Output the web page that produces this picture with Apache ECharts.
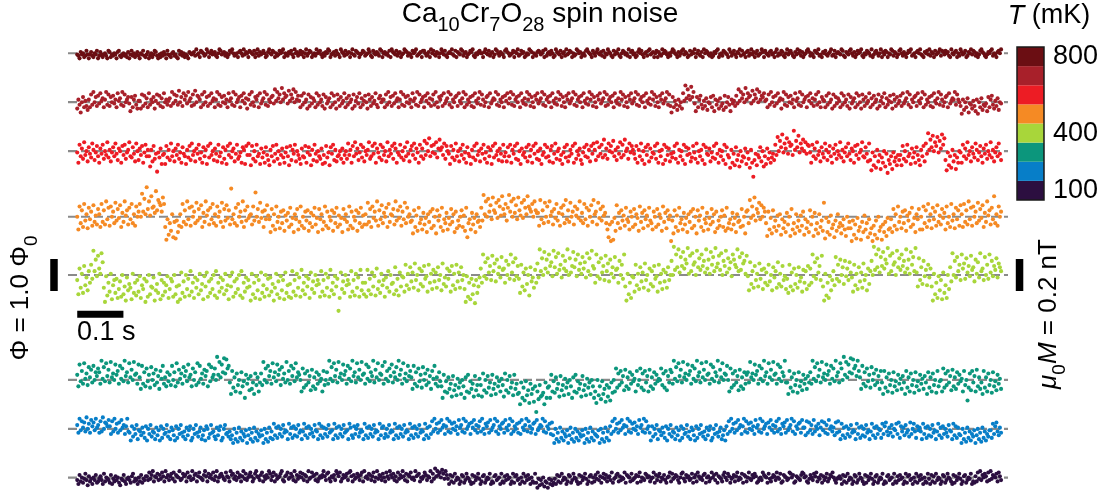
<!DOCTYPE html>
<html>
<head>
<meta charset="utf-8">
<title>Ca10Cr7O28 spin noise</title>
<script src="https://cdn.jsdelivr.net/npm/echarts@6/dist/echarts.min.js"></script>
<style>
  html, body { margin: 0; padding: 0; background: #fff; }
  #chart { width: 1104px; height: 491px; }
</style>
</head>
<body>
<div id="chart"></div>
<script>
// Sample temperatures (mK), top trace first
const temperatures = [800, 700, 600, 500, 400, 300, 200, 100];
// Colour of each temperature, top trace first
const traceColors = ['#6b0e13', '#a8202a', '#ed1c24', '#f58a24', '#a8d63a', '#0c967c', '#077ec8', '#2c0f40'];
// Vertical offset of each trace (in Φ0)
const traceOffsets = [13.68, 12.15, 10.62, 8.57, 6.75, 3.47, 1.94, 0.42];
// Colour bar tick labels (mK)
const colorbarTicks = [800, 400, 100];
const recordLength = 2.0;   // s, every record spans this long
const timeScaleBar = 0.1;   // s
const fluxScaleBar = 1.0;   // Φ0

// Flux samples, one character per sample, evenly spaced in time.
// Level = index in CODES minus CODE_ZERO, one level = FLUX_STEP Φ0.
const CODES = '0123456789ABCDEFGHIJKLMNOPQRSTUVWXYZabcdefghijklmnopqrstuvwxyz';
const CODE_ZERO = 31;
const FLUX_STEP = 0.04;

const flux800 = [
  'UTRWUVSTXURUWTSVUXRTWUSUVTRXWSUTVURWXTSUVTUSWRUXTV',
  'SUWTRVUXTSUWRTVSUXWTRUSVTWURXUTSVWTUSRXUWTVSUTRWVU',
  'VWTYUVSXWVTUYWSVXUVWTSVYXUVWTVSUXWYVTUVSWXVTYUWVSX',
  'WVUXSVYTWUVXVSTWYVUXWSVTUXVWYSVUTWVXUSYVWTVXUWSVYT',
  'VXWSUVTYVWXUSVTWVYXSUVWTXVUSYWVTXUVWSVYUTXWVSUVXWT',
  'UVYWTSXVUWVTYXSVWUVTXSYWVUXTVWSUVYXWTVUSXVWYTUVWSX',
  'XVTUWSYVXUTWVSVYWUXTSVWVYUTXSWVUYXTVWSUVXWYTSVUWXV',
  'VSWYVUXTVWSUYXVTWVUSXYWVTUVXSWVYTUXVWSTVUYXWSVUTWX',
  'WUVXSYTVWUXVSTYWVUXSVWTYUVXWSVTUYXVWSUVTXYWVUSXVTW',
  'YVUWTXSVUYWVTSXUWVYTSVXWUVTYSWXUVSTWYVXUSVWTXYUVWS',
  'VXSWUTYVXWUSVTWYXVUSWTVXYUWVSTXUWVYSVXUTWSYVXWUTVS',
  'TWVXYSUVTXWVUSYWTVXUSWVYTXUVSWXTVYUWSVXTUVYWSXVUTW',
  'XUVSWYTVUXWTSVYUWXVTSWUYVXTWSUVXYWTVUSXWVYTUSWVXUT',
  'VWYTUXSVWVUYXTSWVUXYVTWSUXVWYTSVUXWVTYSUWXVTVYSWUX',
  'WSVUYXTWVSUXYVTWUSVXWYTUVSWXVYUTSWVXUYTWVSXUVWYTXW',
  'UXVWTSYVUWXSVTYWUVXSTWVYUXWTVSUXYWVTSUWVXYTVUSWXVY'
].join('');

const flux700 = [
  'QXTNVZRWSP', 'XRbTdVZSaUcWYRXdTbSZVaUXRcWYTdSbVXZ', 'UOZRXaTQW',
  'WQbSaUYRcTXVZQWbUaSYRcVXTW', 'YSdUbWaTeVZScXaUdWYSbTeVaZ',
  'XRbTdVZSaUcWYRXdTbSZVaUXRcWYTdSbVXZRaWcUYQXbTdVSZXaRcUWYdTbSXVZ',
  'aUfWdYbVgXcZaUeWbYfVdXa',
  'WRaTcVXQbSZUYWRcTaVXSbQZUWYRcTaVQbXSZUWcRYTaVXQbSWZUcRYTWaVQbXSZUWcTRYaVX',
  'XRbTdVZSaUcWYRXdTbSZVaUXRcWYTdSbVXZRaWcUYSXbTdVRZX',
  'aScUWYdTbRXVZaScWUYdRbTXVZSaRcWUYdTbXSVZaRcUWYXdTb',
  'SXVZRaWcUYdTbSXZVaRcWUYTdXbSZVRaXcUWYdTbSXZVaRcWUY',
  'TdXbSZVRaXcUWYdTbSXZVaRcWUYTdXbSZVRaXcUWYdSbTXZVaR',
  'cWUYTdXbSZVRaXcUWYdTbSXZVaRcWUYTdXbSZVRaXcUWYdTbS',
  'NZRWTPXSVQ', 'cWiYfaXhZd', 'UOZRXaTQWSYPVUZRaOXTWQYSUPaRVZTOXUWS',
  'aUfWdYbVgXcZaUeWbYfVdXaZcW',
  'XRbTdVZSaUcWYQXdTbSZVaUXRcWYTdSbVXZRaWcUYSXbTdVRZX',
  'WRaTcVXQbSZUYWRcTaVXSbQZUWYRcTaVQbXSZUWcRYTaVXQbSWZUcRYTWaVQbXSZUW',
  'aScUWYdTbRXVZaScWUYdRbTXVZSaRcWUYdTbXSVZaRcUWYXdTbXV',
  'SMXPVRYNUTQWSOXMVRYPTS', 'UOZRXaTQWSYPVU'
].join('');

const flux600 = [
  'UMaRXPcSVNYTQbWOUZRMXTaPVScQWNUYRbTOXVMZSaPUWcRQYTNbVOXSZMUaRW', 'RJWNZPTFUQXLS',
  'TLZQWObRVNXSaPUMYTRLWQZObSVNXTaPUMYRWLZQbSVOXTNaRUMYPWLZSbQVXNTaPRUMYWLZSb',
  'SKZPVNaRTLXQUMYSOKWRZNTaPVLSXQMUYRKZOWTaNVSPLXRQZMUYSKWOaTNVRPXLSMZQUKYTaOWNRSVPXMS',
  'VPbSWMZRcTXOUaQYNVSWcPRZTbMXUQaOYSVNcRWTZPbXMUSaQVOYRcTNWZSbPXUMaR',
  'XPdSbVfRZUaTcQXeWYSbPZV',
  'TLZQWObRVNXSaPUMYTRLWQZObSVNXTaPUMYRWLZQbSVOXTNaRU',
  'NYRaMWTZPbOVLXSUQYNaRWMZTbPVOXLSUaQYRNWZMTbPVXOSLU',
  'YQaNRWTZMbPVSXOLUYRaQWNZTb',
  'WOcRYTaQeSXPbVZUdRWOYTcQaSeVXPbUZW',
  'TPZMWRbOVLYSaNXQUTZPbMVRWLaOYSXNTQUZPbMWRVOaLYSXTNQZUPbMVRWOaLYTSXNUQZPbTMWRVOaLYS',
  'QIWMTKYOSJVNRQXLUPIWMBOTKSQYNVJRLXPUMQTO', 'aSgVdYiUbXfTcZaSlWdYhUbXeVcTaZ',
  'UMaRXPcSVNYTQbWOUZRMXTaPVScQWNUYRbTOXVMZSaPUWcRQYTNb',
  'OGUKRIWNSHQMVJTEOLRHUNQKSO', 'SKZPVNaRTLXQUMYSOKWRZN', 'bTjWeYhVcZgUdXiaf',
  'OGUKRIWNSHQMV', 'UMaRXPcSVNYTQbWOUZRMXTaPVScQWNUYRbTO'
].join('');

const flux500 = [
  'VLdQaNfSXMcTZOeRWPb', 'XNfRaPhTcOdVZQgSbUeNYRhWaPcTfQXOdVZ', 'fVnZjXsbhWlcdYpaigeZkf',
  'NDTHQKXFRESJO', 'XNfRaPhTcOdVZQgSbUeNYRhWaPcTfQXOdVZRgNbSeUaPrTXQcOfVZRhNaSdUW',
  'XPdSoVbRgUZNaTeW',
  'TJbOXLdRVMZQaKWSYNcPUJXTbLRdOVMZSaKQYNWcPUJbTXLRdOZMVSaKYQcNWPUJbTXRLdOZMVSaKYQcNWP',
  'XPgRbNdUZShOaTeQYVcNfRXWbPhSaUdOZTgQcVXR',
  'SIaNWKcQTLYPUJXRZMbOVIaSWNcKTQYLUPbRXJZMSOVaNWKcFQTLYPUJXRSN',
  'cSmXhVjZeTkaYgUidWlbXfScmZhVjYeTkaWgUicXldbZfVhaY',
  'YOiTaQgVdRhWZPbUfSYOcXeQiTaRgVZPdWbUhSYQfTcOaVeRiXZPgUbSdWYQ', 'LFPCRD',
  'UKeQYMaSWOcTRLZVNbPXUKdRYMaTWOcSQLZVNbPXUKdRYMaTWC',
  'SIaNWKcQTLYPUJXRZMbOVIaSWNcKTQYLUPbRXJZMSOVaNWKcMQTLYPUJXRSNbOVIZ',
  'aQiUdWkSbYgTeVcZ', 'QGZLUIaNSKWOXHTMRJYPVGbLQIXNSKWOZHTMRJaPVGYLQIXNSK',
  'gEUJRHWMPFSKXNQIOTLGVMR', 'MCSHPEUKNDRJWLQFTIMCOHSEVKNDPJRGULM',
  'TJbOXLdRVMZQaKWSYNcPUJXTbL', 'VLdQaNfSXMcTZOeRWPbUYLdQVNfSXMcTaOe',
  'XNfRaPhTcOdVZQgSbUeNYRhWaPcTlQXOdVZ'
].join('');

const flux400 = [
  'RGaLWHcNTJYP', 'dSoYhUkaWmf',
  'LAUFPIWCNRHSDKQEVGMBTJOLCWHPFRIUDNKSAQEVGMLTBJOHWCRFPINUDKSQEVGMA',
  'NCXHQEVKSFYIPDTLRGWJOCUMXEQHSKVFYDPITLRGWJNCUMXEQHSKVFYDPITLR',
  'MBWGPDUJRCXHNEVKSFTIOBLWGQDUJRCXHNE',
  'ODYIRFWLTEZJPGUMSDXKQHVNROEYIRFWLTEZJPGUMS3DXKQHVNROEYIRFWLTEZJPG',
  'PEZJSGXMUFaKQHWNRETLYIVOPGbJSFXMU',
  'TIdNWKbQXLeRVJaOYMcSUIdPWKZQXLbRVJeOTMaSYIcNWKdQXLbRV',
  'KAUEPCSGN9RHMT', 'aPlUfSiXcRkYeQhWbTjZaPgVdSlXfRiUc', 'SHdMXJaOVFbQTLZP',
  'eTpYiVnahXlcfUobjWmZdTkagYpViXcnbhUlZeWjafTmYiVoc', 'aPlUfSiXcRkYeQhWbTjZaPgVdSl',
  'MBWGPDU', 'TIdNWKbQXLeRVJaOYMcSUIdPWKZQXLbRV',
  'gVrZlbpXjcnaheqWkYmdfVobiZlcgXpahWndjYqbekZmVgcoXiafUlhdbpYjZmegWk',
  'UJfOYLcRWMeSZKaPXNdQVJbTYLfOWMcRUK', 'SHdMXJaOVLbQTIZPYKcN', 'aPlUfSiXcRk',
  'MBWFPDUJR', 'YNjSdQhVbOgUaRfX', 'TIdNWKbQXLeRVJaOY',
  'gVrZlbpXjcnaheqWkYmdfVobiZlcgXpahWndjYq', 'XMiRbOgUZNdTa', 'MBWGPDUJRCXHNDVK',
  'bQmVgTjYdRlaeSiXcUkZbQhWfTmYaRjVdSlXgUcZiTebY'
].join('');

const flux300 = [
  'ZQhUcSiWaRfXdTgVbYe', 'bSkWfUiYdTjXaVhZcSgWeUkYbTiXdVjZaSh', 'XOgSbQeUZPfVaRdTYOcWgSXQbU',
  'ZRgVbQiTdWaSfYcUhXZQeVbRiTgWaSdYcQhUfXZ', 'eVnZjXhbmaleg', 'TKcPXMaRVLbQUHZSWNYOTKaRXMT',
  'aRjVeTgYcSiXbUhZdRfWaTjVcSgYeUiXbZ', 'VMePaRcTYNdQXObSZUWMcRV',
  'bSkWfUiYdTjXaVhZcSgWeUkYbTiXdVjZaShWfUbYkTdXiVaZgSjWcUeYhTbXfVkZdSiWaUgYc',
  'XOgSbQeUZPfVaRdTYOcWgSXQbU', 'QHZMULXOSIYNRJWPTKVQHXMZLUOSIYNRJW',
  'RIaNVLYPTJZOSKXQUMWRIaNVLYPTJZOSK', 'LCTHPFUJNDSKOEQ6MGRIJLCTHP',
  'QHZMULXOSIYNRJWPTKVQHXMZLUOSIYNRJWPTKVQH', 'MDVJQGUKOERIPFTL',
  'VMePaRcTYNdQXObSZUWMcRVePaNcTYMdQXObSZUWVeRaPcNYTd',
  'bSkWfUiYdTjXaVhZcSgWeUkYbTiXdVjZaShWfUbYkTdXiVaZg', 'VMePaRcTYNdQXObSZ',
  'bTjXaVhZcSgWeUkYbSiXdVjZaShWfUbYkT', 'TKcPXMaRVLbQUNZSWOYT', 'bSkWfUiYdTjXaVhZcSgWeUkYbTi',
  'eVnZjXhbmalegYkc', 'XOgSbQeUZPfVaRdTYOc',
  'TKcPXMaRVLbQUNZSWOYTKcPXMaRVLbQUNZSWOYTKbPXMaRVLcQU',
  'VMePaRcTYNdQXObSZUWMcRVFPaNcTYMdQXO', 'TKcPXMaRVLbQUNZSWO'
].join('');

const flux200 = [
  'YSdUbWaTeVZScXaUdWYSbTeVaZXc', 'XRbTdVZSaUcWYRXdT',
  'SMXPVRYNUTQWSOXMVRYPTSNWQUMXOVRSYPTNWUQMXOVRYSPTNWQUXMOVRYSPTWNQUMXVORYSTPNWQUXMOVYRSPTN',
  'QKVNSLWOTMRPUKQVNSLWOTMRPUQKVNSLWO',
  'TNZQWOXRVPYSUTNZRWOXQVPYSUNTZQWOXRVSPYUTNZQXOWRVPYSTUNZQWOXRVPYSTUNZWQOXRVYPSUTNZQWOXRVPYSUTNZQWXORVPYSUTNZQWOXRVPYSUTNZQWOXRVPYSUTNZQWO',
  'XRbTdVZSaUcWYRXdTbSZVaUXRcWYTdSbVXZRaWcUYSXbTdVRZXaScUWYdTbRXVZaScWUYdRbTXVZSaRcWUYdTbXSVZaRcUWYXdTbSXVZRa',
  'QKVNSLWOTMRPUKQWNSLVOTMRPUQKVNSLWOTMRQPUKVNSLWOTM', 'XRbTdVZSaUcWYRXdTbSZVaUXRcWYTdSbVX',
  'SMXPVRYNUTQWSOXMVRYPTSNWQUMXOVRSYPTNWUQMXOVRYSPTNWQUXMOVRYSPTWNQUM',
  'XRbTdVZSaUcWYRXdTbSZVaUXRcWYTdSbVXZRaWcUYSXbTdVRZXaScUWYdTbRXVZaScW',
  'WQbSaUYRcTXVZQWbUaSYRcVXTWQaSb', 'TNZQWOXRVPYSUTNZRWOXQVPYSUNTZQWOXRV',
  'UOZRXaTQWSYPVUZRaOXTWQYSUPaRVZTOXUW', 'TNZRWOXQVPYSUNTZQWOXRVSPYUTNZQXOWR',
  'QKVNSLWOTMRPUKQVNSLWOTMRPU', 'UOZRXaTQWS'
].join('');

const flux100 = [
  'TQXSVRUYTPWSUQVTXRSUWTQYSVUTRXQUSWTVRPUTXSQUVTRWYSUTQVSXRUTW',
  'WTZUXaSWVYTXUZWSaVXTWYUZSXWVaTUYWXSZVWTaUXYSWZVUTX',
  'aWSYVXUZTWaSVXYWUTZWVSaXYUWTZVXSWaUYTVXZWSUYaWVTXZ',
  'SWUXVaYTWZSXUVWYaTSWXZUVYWTaSXUWZVYTXWSaUVZWXTYSUW',
  'VXaWTYZUSWVXTaYWZSUXVWYTZaWSXUVYWTXZSaVWUYXTWZSVaU',
  'XWTYVSZWUaXVYTWSZUXVaWTYSXWZUVTaWXYSVUWZXTWVaS', 'YUcWaXZVbYUaX',
  'UQXSWRYTVUQSXWRTYVUSQXRWTVYUQSWXRTVUYQSRWXTUVQYSRWTXUVQSYRWXTUQVSYRWTXUQVSRY',
  'RNUPTQVOSRNUQTPR', 'UQXSWRYTVUQSXWRTYVUSQXRWTVYUQSWXR',
  'VSXUZTWRVYUXSVWTZRUVXYSWTVUZRXWVSYTUVXRWZSVUTYXVWS',
  'UVZRXTWYSVUXTRVWZSYUVXWTRVYZUSXVWTUYRVXSZWUVTXYRVW',
  'SUZVXTYRWVUSXZVTYWRUVXSWZTVUYRXWSVZUTXVYWRSUVTZXWV',
  'RYUSVXWTZVUYRSXWVTUZYVXRSWVUTXZYVWSRUXVTYWZSVUXRWT', 'VYSUXWZVTRUVW',
  'UQXSWRYTVUQSXWRTYVUSQXRWTVYUQSWXRTVUYQSRWXTUVQYSRWTX',
  'UVQSYRWXTUQVSYRWTXUQVSRYUQXSWRYTVUQSXWRTYVUSQXRWTVYU', 'QSWXRTVUYQSR',
  'WSZUaTXVYWSZTaUXWVYSZWT'
].join('');

const fluxRecords = [flux800, flux700, flux600, flux500, flux400, flux300, flux200, flux100];

// ---- layout ----
const FONT = '"Liberation Sans", Arial, Helvetica, sans-serif';
const X_MIN = -0.0806, X_MAX = 2.0843;      // time axis extent (s)
const Y_MIN = 0, Y_MAX = 15;                 // offset axis extent (Φ0)
const LINE_START = -0.02, LINE_END = 2.015;  // extent of the dashed zero lines (s)
const TIME_BAR_LEVEL = 5.52;                 // height of the time scale bar (Φ0)
const FLUX_BAR_LEFT = -0.0503, FLUX_BAR_RIGHT = 2.04; // time position of the flux scale bars (s)
const FLUX_BAR_TRACE = 4;                    // flux bars sit on this trace

function decode(codes, offset) {
  const n = codes.length;
  const pts = new Array(n);
  for (let i = 0; i < n; i++) {
    const level = CODES.indexOf(codes[i]) - CODE_ZERO;
    pts[i] = [recordLength * i / (n - 1), offset + level * FLUX_STEP];
  }
  return pts;
}

const series = [];
// dashed zero line of every trace
fluxRecords.forEach((codes, k) => {
  series.push({
    type: 'line', xAxisIndex: 0, yAxisIndex: 0, silent: true, z: 1,
    data: [[LINE_START, traceOffsets[k]], [LINE_END, traceOffsets[k]]],
    symbol: 'none',
    lineStyle: { color: '#8a8a8a', width: 2.2, type: [9, 4] }
  });
});
// noise traces
fluxRecords.forEach((codes, k) => {
  series.push({
    type: 'scatter', xAxisIndex: 0, yAxisIndex: 0, silent: true, z: 2,
    data: decode(codes, traceOffsets[k]),
    symbol: 'circle', symbolSize: 4.1,
    itemStyle: { color: traceColors[k], opacity: 1 }
  });
});
// scale bars
const barOffset = traceOffsets[FLUX_BAR_TRACE];
series.push({
  type: 'line', xAxisIndex: 0, yAxisIndex: 0, silent: true, z: 3,
  data: [[0, TIME_BAR_LEVEL], [timeScaleBar, TIME_BAR_LEVEL]], symbol: 'none',
  lineStyle: { color: '#000', width: 7, cap: 'butt' }
});
[FLUX_BAR_LEFT, FLUX_BAR_RIGHT].forEach(t => {
  series.push({
    type: 'line', xAxisIndex: 0, yAxisIndex: 0, silent: true, z: 3,
    data: [[t, barOffset - fluxScaleBar / 2], [t, barOffset + fluxScaleBar / 2]], symbol: 'none',
    lineStyle: { color: '#000', width: 7.5, cap: 'butt' }
  });
});
// colour bar
const barTemps = temperatures.slice().reverse();
const barColors = traceColors.slice().reverse();
series.push({
  type: 'bar', xAxisIndex: 1, yAxisIndex: 1, silent: true,
  barWidth: '100%', barCategoryGap: 0,
  data: barTemps.map((t, i) => ({ value: 1, itemStyle: { color: barColors[i] } }))
});

const isTick = (i, v) => colorbarTicks.indexOf(Number(v)) >= 0;

const option = {
  animation: false,
  backgroundColor: '#fff',
  grid: [
    { left: 40, width: 1000, top: 11, height: 480, outerBoundsMode: 'none' },
    { left: 1017, width: 27, top: 47, height: 153, outerBoundsMode: 'none' }
  ],
  xAxis: [
    { gridIndex: 0, type: 'value', min: X_MIN, max: X_MAX, show: false },
    { gridIndex: 1, type: 'value', min: 0, max: 1, show: false }
  ],
  yAxis: [
    { gridIndex: 0, type: 'value', min: Y_MIN, max: Y_MAX, show: false },
    {
      gridIndex: 1, type: 'category', position: 'right',
      data: barTemps.map(String),
      axisLine: { show: false },
      splitLine: { show: false },
      axisTick: { show: true, alignWithLabel: true, length: 6, interval: isTick,
                  lineStyle: { color: '#000', width: 1.5 } },
      axisLabel: { show: true, interval: isTick, margin: 9, color: '#000',
                   fontSize: 27, fontFamily: FONT }
    }
  ],
  series: series,
  graphic: [
    { // colour bar frame
      type: 'rect', z: 100, silent: true,
      shape: { x: 1017, y: 47, width: 27, height: 153 },
      style: { fill: 'none', stroke: '#1a1a1a', lineWidth: 1.5 }
    },
    { // title
      type: 'text', x: 540, y: 0, z: 100, silent: true,
      style: {
        text: '{m|Ca}{s|10}{m|Cr}{s|7}{m|O}{s|28}{m| spin noise}',
        align: 'center', verticalAlign: 'top', fill: '#000',
        rich: {
          m: { fontSize: 28, lineHeight: 30, fontFamily: FONT, fill: '#000', verticalAlign: 'top' },
          s: { fontSize: 20, lineHeight: 20, fontFamily: FONT, fill: '#000', verticalAlign: 'top', padding: [15, 0, 0, 0] }
        }
      }
    },
    { // colour bar title
      type: 'text', x: 1049, y: 1, z: 100, silent: true,
      style: {
        text: '{i|T}{m| (mK)}',
        align: 'center', verticalAlign: 'top', fill: '#000',
        rich: {
          i: { fontSize: 27, lineHeight: 30, fontFamily: FONT, fontStyle: 'italic', fill: '#000' },
          m: { fontSize: 27, lineHeight: 30, fontFamily: FONT, fill: '#000' }
        }
      }
    },
    { // time scale label
      type: 'text', x: 77, y: 333, z: 100, silent: true,
      style: { text: '0.1 s', fontSize: 27, fontFamily: FONT, fill: '#000', align: 'left', verticalAlign: 'middle' }
    },
    { // flux scale label
      type: 'text', x: 22, y: 298, rotation: Math.PI / 2, z: 100, silent: true,
      style: {
        text: '{m|Φ = 1.0 Φ}{s|0}',
        align: 'center', verticalAlign: 'middle', fill: '#000',
        rich: {
          m: { fontSize: 26, lineHeight: 28, fontFamily: FONT, fill: '#000', verticalAlign: 'top' },
          s: { fontSize: 19, lineHeight: 19, fontFamily: FONT, fill: '#000', verticalAlign: 'top', padding: [14, 0, 0, 0] }
        }
      }
    },
    { // magnetisation scale label
      type: 'text', x: 1050, y: 314, rotation: Math.PI / 2, z: 100, silent: true,
      style: {
        text: '{i|μ}{s|0}{i|M}{m| = 0.2 nT}',
        align: 'center', verticalAlign: 'middle', fill: '#000',
        rich: {
          i: { fontSize: 26, lineHeight: 28, fontFamily: FONT, fontStyle: 'italic', fill: '#000', verticalAlign: 'top' },
          m: { fontSize: 26, lineHeight: 28, fontFamily: FONT, fill: '#000', verticalAlign: 'top' },
          s: { fontSize: 19, lineHeight: 19, fontFamily: FONT, fill: '#000', verticalAlign: 'top', padding: [14, 0, 0, 0] }
        }
      }
    }
  ]
};

const chart = echarts.init(document.getElementById('chart'), null, { renderer: 'canvas' });
chart.setOption(option);
</script>
</body>
</html>
